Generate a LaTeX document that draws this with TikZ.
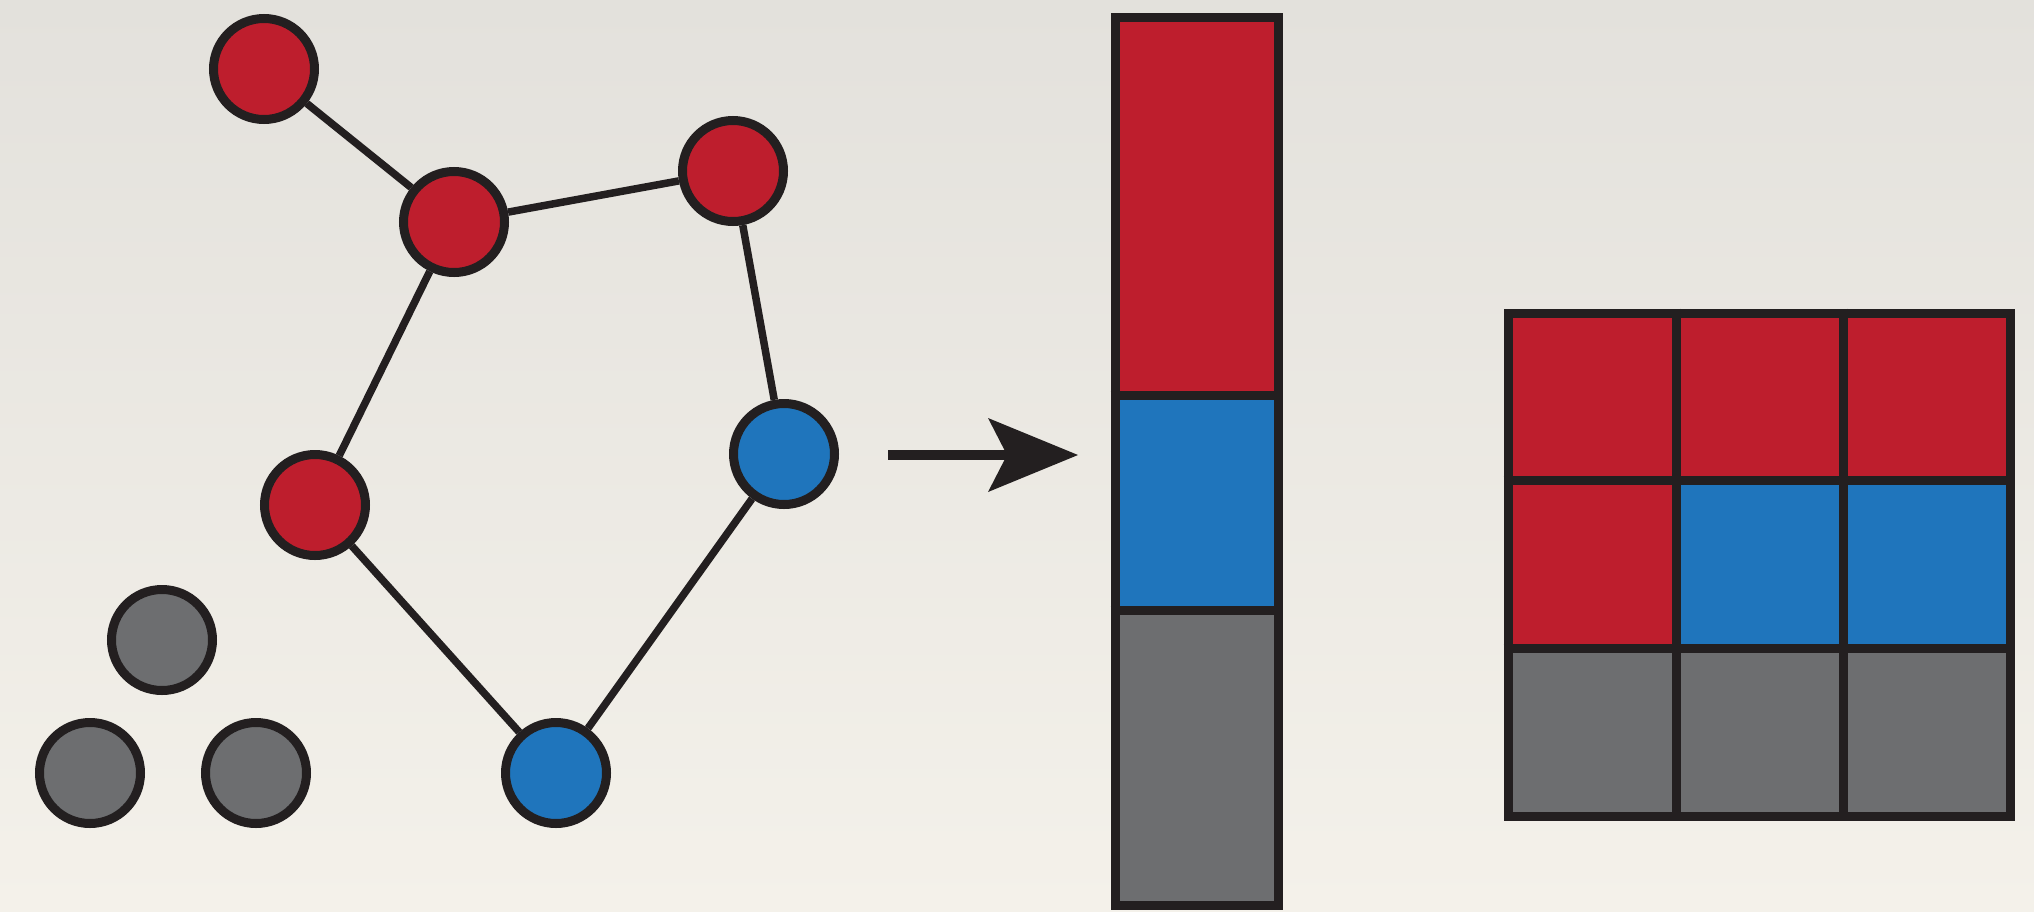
\documentclass[tikz,border=0pt]{standalone}
\usetikzlibrary{arrows.meta}
\definecolor{inkline}{HTML}{231F20}
\definecolor{redfill}{HTML}{BE1E2D}
\definecolor{bluefill}{HTML}{1F75BC}
\definecolor{grayfill}{HTML}{6D6E70}
\definecolor{papertop}{HTML}{E3E1DC}
\definecolor{paperbot}{HTML}{F4F1EA}
\tikzset{
  vertex/.style={circle, draw=inkline, line width=9pt, minimum size=101pt, inner sep=0pt},
  rv/.style={vertex, fill=redfill},
  bv/.style={vertex, fill=bluefill},
  gv/.style={vertex, fill=grayfill},
  link/.style={draw=inkline, line width=7.5pt},
  frame/.style={draw=inkline, line width=9pt, line join=miter},
}
\begin{document}
\begin{tikzpicture}[x=1pt, y=-1pt]
  % paper background
  \shade[top color=papertop, bottom color=paperbot] (0,0) rectangle (2034,911);
  \useasboundingbox (0,0) rectangle (2034,911);

  % graph vertices
  \node[rv] (a) at (264,69) {};
  \node[rv] (b) at (454,222) {};
  \node[rv] (c) at (733,171) {};
  \node[rv] (d) at (315,505) {};
  \node[bv] (e) at (784,454) {};
  \node[bv] (f) at (556,773) {};
  \node[gv] (g1) at (162,640) {};
  \node[gv] (g2) at (90,773) {};
  \node[gv] (g3) at (256,773) {};

  % graph edges
  \draw[link] (a) -- (b);
  \draw[link] (b) -- (c);
  \draw[link] (b) -- (d);
  \draw[link] (c) -- (e);
  \draw[link] (d) -- (f);
  \draw[link] (e) -- (f);

  % arrow
  \coordinate (arrs) at (888,455);
  \coordinate (arre) at (1078,455);
  \draw[draw=inkline, line width=10pt,
        -{Stealth[length=90pt, width=74pt, inset=19pt, line width=0pt, fill=inkline]}]
        (arrs) -- (arre);

  % column vector
  \fill[redfill]  (1115,17) rectangle (1278,395);
  \fill[bluefill] (1115,395) rectangle (1278,610);
  \fill[grayfill] (1115,610) rectangle (1278,905);
  \draw[frame] (1115,17) rectangle (1278,905);
  \draw[frame] (1110.5,395) -- (1282.5,395);
  \draw[frame] (1110.5,610) -- (1282.5,610);

  % 3x3 matrix
  \fill[redfill]  (1508,313) rectangle (2010,480);
  \fill[redfill]  (1508,480) rectangle (1676,648);
  \fill[bluefill] (1676,480) rectangle (2010,648);
  \fill[grayfill] (1508,648) rectangle (2010,816);
  \draw[frame] (1508,313) rectangle (2010,816);
  \draw[frame] (1503.5,480) -- (2014.5,480);
  \draw[frame] (1503.5,648) -- (2014.5,648);
  \draw[frame] (1676,308.5) -- (1676,820.5);
  \draw[frame] (1843,308.5) -- (1843,820.5);
\end{tikzpicture}
\end{document}
